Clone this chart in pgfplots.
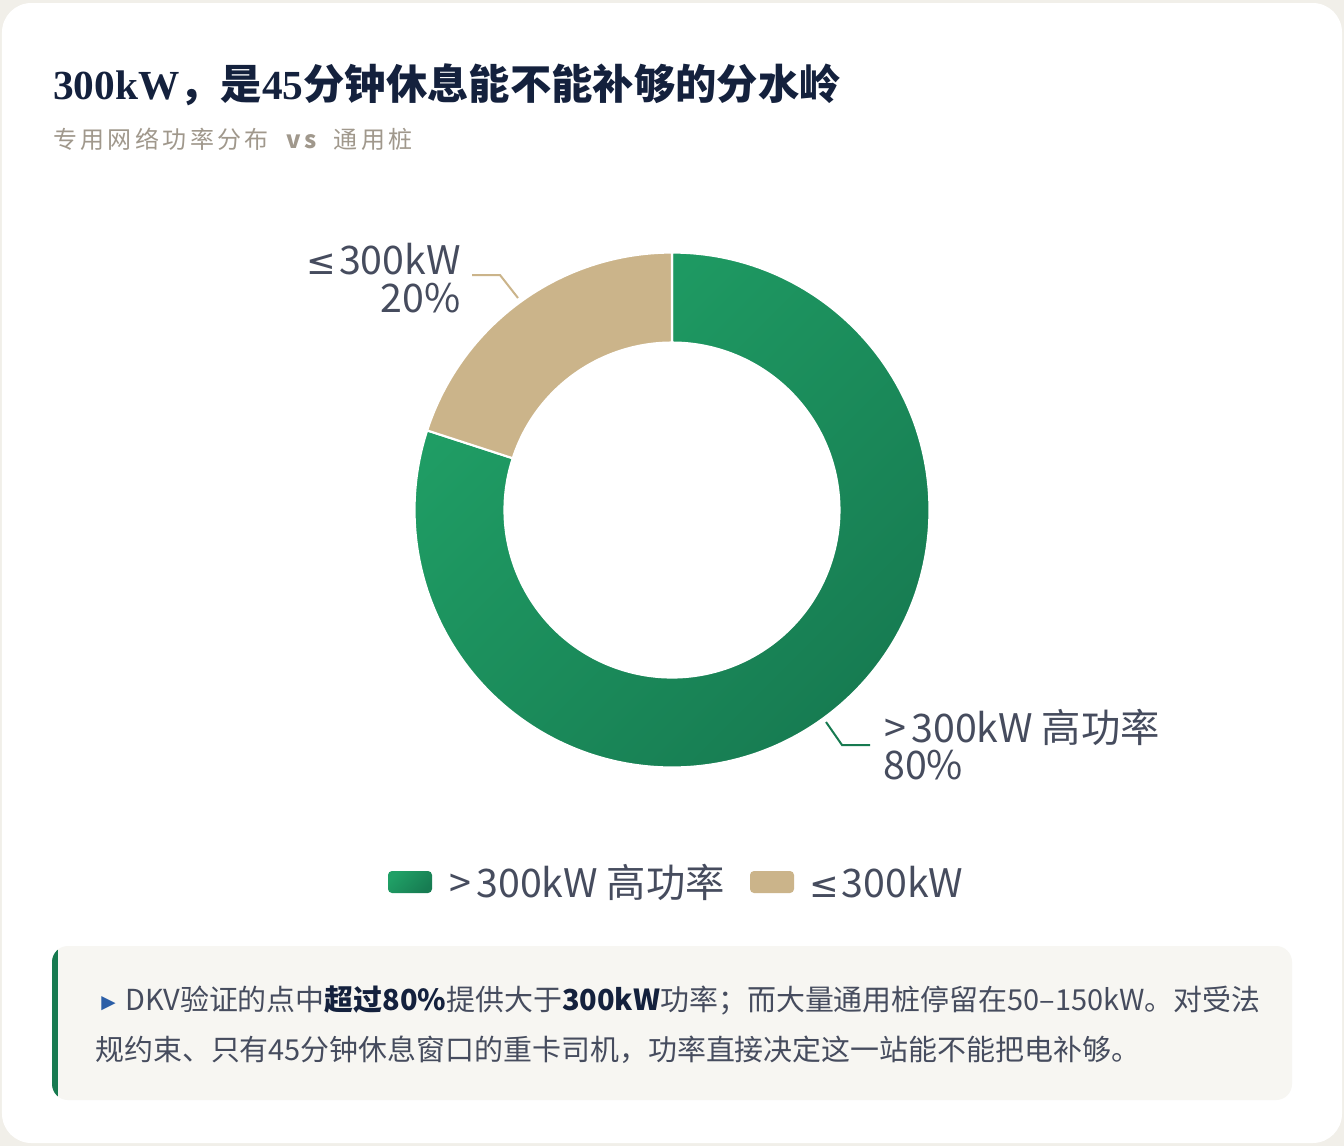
\documentclass[border=0pt]{standalone}
\usepackage{pgfplots}
\pgfplotsset{compat=1.18}
\usepackage{pgfplotstable}
\usepackage{fontspec}
\setmainfont{Noto Sans CJK SC}
\newfontfamily\symfont{DejaVu Sans}
\newfontfamily\lserif{Liberation Serif}
\definecolor{bgpage}{HTML}{F1EFE9}
\definecolor{gA}{HTML}{20A066}
\definecolor{gB}{HTML}{177C52}
\definecolor{tan}{HTML}{CBB48A}
\definecolor{lbl}{HTML}{464C5E}
\definecolor{ttl}{HTML}{14213D}
\definecolor{sub}{HTML}{A0988C}
\definecolor{notebg}{HTML}{F7F6F2}
\definecolor{bar}{HTML}{177A50}
\definecolor{tri}{HTML}{2B5EA7}
\newcommand\lesym{{\symfont\addfontfeature{Scale=0.9}≤}\kern2pt}
\newcommand\gtsym{>\kern4pt}
\pgfplotstableread{
label value
high 80
low 20
}\donutdata
\pgfplotstablegetelem{0}{value}\of\donutdata\let\vhigh\pgfplotsretval%
\pgfplotstablegetelem{1}{value}\of\donutdata\let\vlow\pgfplotsretval%
\pgfmathsetmacro\aend{90-3.6*\vhigh}%
\pgfmathsetmacro\lend{\aend-3.6*\vlow}%
\begin{document}%
\begin{tikzpicture}
\begin{axis}[x=0.75pt,y=0.75pt,y dir=reverse,hide axis,
  xmin=0,xmax=1344,ymin=0,ymax=1146,enlargelimits=false,clip=false,
  scale only axis]
% page and card
\fill[bgpage] (axis cs:0,0) rectangle (axis cs:1344,1146);
\fill[white,rounded corners=22pt] (axis cs:2,3) rectangle (axis cs:1342,1143);
% title
\node[anchor=base west,inner sep=0,text=ttl,font=\fontsize{31pt}{34pt}\selectfont\bfseries] at (axis cs:53,99) {{\lserif\bfseries 300kW}，是{\lserif\bfseries 45}分钟休息能不能补够的分水岭};
\node[anchor=base west,inner sep=0,text=sub,font=\fontsize{18pt}{22pt}\selectfont\addfontfeature{LetterSpace=14}] at (axis cs:53,148) {专用网络功率分布\ \ {\bfseries vs}\ \ 通用桩};
% donut
\shadedraw[shift={(axis cs:672,510)},top color=gA,bottom color=gB,shading angle=45,draw=white,line width=1.6pt]
  (90:193.1pt) arc[start angle=90,end angle=\aend,radius=193.1pt]
  -- (\aend:125.6pt) arc[start angle=\aend,end angle=90,radius=125.6pt] -- cycle;
\filldraw[shift={(axis cs:672,510)},fill=tan,draw=white,line width=1.6pt]
  (\aend:193.1pt) arc[start angle=\aend,end angle=\lend,radius=193.1pt]
  -- (\lend:125.6pt) arc[start angle=\lend,end angle=\aend,radius=125.6pt] -- cycle;
% leader lines
\draw[tan,line width=1.5pt] (axis cs:472,275) -- (axis cs:500,275) -- (axis cs:518,298);
\draw[bar,line width=1.5pt] (axis cs:826,722) -- (axis cs:842,745) -- (axis cs:870,745);
% labels
\node[anchor=base east,inner sep=0,text=lbl,font=\fontsize{29.5pt}{32pt}\selectfont] at (axis cs:461,274) {\lesym300kW};
\node[anchor=base east,inner sep=0,text=lbl,font=\fontsize{29.5pt}{32pt}\selectfont] at (axis cs:461,312) {20\%};
\node[anchor=base west,inner sep=0,text=lbl,font=\fontsize{29.5pt}{32pt}\selectfont] at (axis cs:884,742) {\gtsym300kW 高功率};
\node[anchor=base west,inner sep=0,text=lbl,font=\fontsize{29.5pt}{32pt}\selectfont] at (axis cs:883,779) {80\%};
% legend
\shade[top color=gA,bottom color=gB,shading angle=45,rounded corners=3pt] (axis cs:388,871) rectangle (axis cs:432,893);
\fill[tan,rounded corners=3pt] (axis cs:750,871) rectangle (axis cs:794,893);
\node[anchor=base west,inner sep=0,text=lbl,font=\fontsize{29.5pt}{32pt}\selectfont] at (axis cs:449,897) {\gtsym300kW 高功率};
\node[anchor=base west,inner sep=0,text=lbl,font=\fontsize{29.5pt}{32pt}\selectfont] at (axis cs:809,897) {\lesym300kW};
% note box
\fill[notebg,rounded corners=12pt] (axis cs:52,946) rectangle (axis cs:1292,1100);
\begin{scope}
\clip[rounded corners=12pt] (axis cs:52,946) rectangle (axis cs:1292,1100);
\fill[bar] (axis cs:52,946) rectangle (axis cs:58,1100);
\end{scope}
\node[anchor=base west,inner sep=0,text=tri,font=\fontsize{14pt}{16pt}\symfont] at (axis cs:101,1008) {▶};
\node[anchor=base west,inner sep=0,text=lbl,font=\fontsize{21.7pt}{24pt}\selectfont] at (axis cs:125,1010) {DKV验证的点中{\bfseries\color{ttl}超过80\%}提供大于{\bfseries\color{ttl}300kW}功率；而大量通用桩停留在50–150kW。对受法};
\node[anchor=base west,inner sep=0,text=lbl,font=\fontsize{21.7pt}{24pt}\selectfont] at (axis cs:95,1060) {规约束、只有45分钟休息窗口的重卡司机，功率直接决定这一站能不能把电补够。};
\end{axis}
\pgfresetboundingbox
\useasboundingbox (current axis.south west) rectangle (current axis.north east);
\end{tikzpicture}%
\end{document}
